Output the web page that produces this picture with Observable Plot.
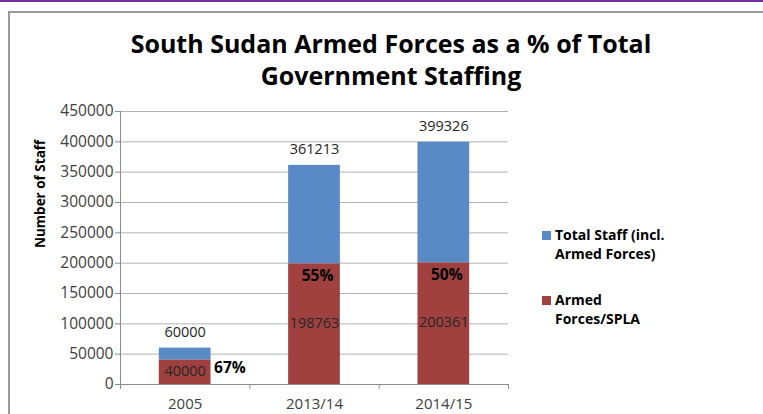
<!DOCTYPE html>
<html>
<head>
<meta charset="utf-8">
<script src="https://cdn.jsdelivr.net/npm/d3@7"></script>
<script src="https://cdn.jsdelivr.net/npm/@observablehq/plot@0.6"></script>
<style>
  html, body { margin: 0; padding: 0; background: #fff; }
  #wrap { position: relative; width: 763px; height: 414px; overflow: hidden; background: #fff; font-family: "Open Sans", sans-serif; }
  #topline { position: absolute; left: 0; top: 0; width: 763px; height: 2px; background: #7030A0; }
  #frame { position: absolute; left: 8px; top: 11px; width: 800px; height: 500px; border-left: 2px solid #9a9a9a; border-top: 2px solid #9a9a9a; box-sizing: border-box; }
  #chart { position: absolute; left: 0; top: 0; }
  #title { position: absolute; left: 0; width: 782px; top: 27px; text-align: center; font-weight: 700; font-size: 25px; line-height: 32px; color: #000; }
  .leg { position: absolute; left: 542px; font-weight: 700; font-size: 14px; line-height: 18.5px; color: #000; }
  .leg .sw { position: absolute; left: 0; top: 5px; width: 8.5px; height: 8.5px; }
  .leg .tx { position: absolute; left: 13px; top: 0; white-space: nowrap; }
</style>
</head>
<body>
<div id="wrap">
  <div id="topline"></div>
  <div id="frame"></div>
  <div id="chart"></div>
  <div id="title">South Sudan Armed Forces as a % of Total<br>Government Staffing</div>
  <div id="legend"></div>
</div>
<script>
// ---- data ----
const categories = ["2005", "2013/14", "2014/15"];
const totalStaff = [60000, 361213, 399326];
const armedForces = [40000, 198763, 200361];
const shareLabels = ["67%", "55%", "50%"];
const yTicks = [0, 50000, 100000, 150000, 200000, 250000, 300000, 350000, 400000, 450000];
const seriesNames = ["Total Staff (incl.\nArmed Forces)", "Armed\nForces/SPLA"];
const yLabel = "Number of Staff";

const blue = "#5A8AC6";
const red = "#A0413F";

const rows = categories.map((c, i) => ({i, cat: c, total: totalStaff[i], armed: armedForces[i], pct: shareLabels[i]}));

const chart = Plot.plot({
  width: 763,
  height: 414,
  marginLeft: 120,
  marginRight: 255,
  marginTop: 111,
  marginBottom: 30,
  style: {fontFamily: "'Open Sans', sans-serif", background: "transparent", overflow: "visible"},
  x: {type: "linear", domain: [0, categories.length], axis: null},
  y: {domain: [0, 450000], axis: null},
  marks: [
    Plot.gridY(yTicks, {stroke: "#b4b4b4", strokeOpacity: 1, strokeWidth: 1}),
    Plot.rectY(rows, {x1: d => d.i + 0.3, x2: d => d.i + 0.7, y1: d => d.armed, y2: d => d.total, fill: blue}),
    Plot.rectY(rows, {x1: d => d.i + 0.3, x2: d => d.i + 0.7, y1: 0, y2: d => d.armed, fill: red}),
    Plot.ruleX([0], {stroke: "#8c8c8c", strokeWidth: 1}),
    Plot.ruleY([0], {stroke: "#8c8c8c", strokeWidth: 1}),
    Plot.axisY({ticks: yTicks, tickSize: 5, tickPadding: 2, tickFormat: d => String(d), stroke: "#8c8c8c", color: "#404040", fontSize: 15.5, label: null, style: {letterSpacing: "1px"}}),
    Plot.axisX({ticks: d3.range(categories.length + 1), tickSize: 5, tickFormat: () => "", stroke: "#8c8c8c", label: null}),
    Plot.axisX({ticks: categories.map((c, i) => i + 0.5), tickSize: 0, tickPadding: 14, tickFormat: d => categories[Math.floor(d)], color: "#404040", fontSize: 15, label: null}),
    Plot.text([yLabel], {frameAnchor: "left", rotate: -90, dx: -80, text: d => d, fontWeight: 700, fontSize: 13.5, fill: "#000"}),
    Plot.text(rows, {x: d => d.i + 0.5, y: "total", text: d => String(d.total), dy: -16, fontSize: 14.5, fill: "#262626", style: {letterSpacing: "0.6px"}}),
    Plot.text(rows, {x: d => d.i + 0.5, y: d => d.armed / 2, text: d => String(d.armed), dy: -1, fontSize: 14.5, fill: "#262626", style: {letterSpacing: "0.6px"}}),
    Plot.text(rows.slice(0, 1), {x: d => d.i + 0.7, y: d => d.armed / 2, text: "pct", dx: 3, dy: -4, textAnchor: "start", fontWeight: 700, fontSize: 15.5, fill: "#000"}),
    Plot.text(rows.slice(1), {x: d => d.i + 0.5, y: "armed", text: "pct", dx: 3, dy: 12, fontWeight: 700, fontSize: 15.5, fill: "#000"})
  ]
});
document.getElementById("chart").appendChild(chart);

// legend
const legend = document.getElementById("legend");
const legTops = [226, 291];
[blue, red].forEach((col, k) => {
  const el = document.createElement("div");
  el.className = "leg";
  el.style.top = legTops[k] + "px";
  const sw = document.createElement("div");
  sw.className = "sw";
  sw.style.background = col;
  const tx = document.createElement("div");
  tx.className = "tx";
  tx.innerHTML = seriesNames[k].split("\n").join("<br>");
  el.appendChild(sw);
  el.appendChild(tx);
  legend.appendChild(el);
});
</script>
</body>
</html>
